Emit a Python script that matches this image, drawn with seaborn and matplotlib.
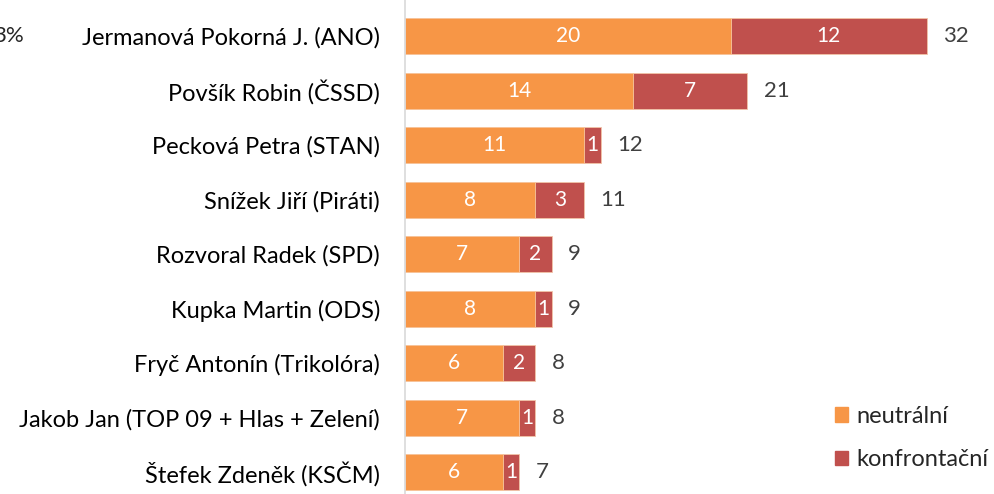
import pandas as pd
import matplotlib.pyplot as plt
import seaborn as sns
from matplotlib.patches import Patch

# -----------------------------
# Data
# -----------------------------
names = [
    "Jermanová Pokorná J. (ANO)",
    "Povšík Robin (ČSSD)",
    "Pecková Petra (STAN)",
    "Snížek Jiří (Piráti)",
    "Rozvoral Radek (SPD)",
    "Kupka Martin (ODS)",
    "Fryč Antonín (Trikolóra)",
    "Jakob Jan (TOP 09 + Hlas + Zelení)",
    "Štefek Zdeněk (KSČM)",
]
neutral = [20, 14, 11, 8, 7, 8, 6, 7, 6]
confront = [12, 7, 1, 3, 2, 1, 2, 1, 1]
series_labels = ["neutrální", "konfrontační"]
corner_text = "3%"

ORANGE = "#F79646"
RED = "#C0504D"

df = pd.DataFrame({"name": names, "neutral": neutral, "confront": confront})
df["total"] = df["neutral"] + df["confront"]

# -----------------------------
# Plot
# -----------------------------
sns.set_style("white")
plt.rcParams["font.family"] = ["Lato", "DejaVu Sans"]

fig = plt.figure(figsize=(9.95, 4.94), dpi=100)
ax = fig.add_axes([405 / 995, 0, 590 / 995, 1])

# total bar (red) underneath, neutral (orange) on top -> stacked look
sns.barplot(data=df, x="total", y="name", orient="h", color=RED, width=0.66,
            edgecolor="#F2C4A8", linewidth=0.6, saturation=1, ax=ax)
sns.barplot(data=df, x="neutral", y="name", orient="h", color=ORANGE, width=0.66,
            edgecolor="#F9C9A0", linewidth=0.6, saturation=1, ax=ax)

ax.set_xlim(0, 36.2)
ax.set_ylim(8.40, -0.66)
ax.set_xlabel("")
ax.set_ylabel("")
ax.set_xticks([])
ax.tick_params(axis="y", length=0, pad=18, labelsize=17, labelcolor="#000000")

for s in ["top", "right", "bottom"]:
    ax.spines[s].set_visible(False)
ax.spines["left"].set_color("#D9D9D9")
ax.spines["left"].set_linewidth(1.2)

# value labels
for i, row in df.iterrows():
    ax.text(row["neutral"] / 2, i, str(row["neutral"]), ha="center", va="center",
            color="white", fontsize=15)
    ax.text(row["neutral"] + row["confront"] / 2, i, str(row["confront"]),
            ha="center", va="center", color="white", fontsize=15)
    ax.text(row["total"] + 1.0, i, str(row["total"]), ha="left", va="center",
            color="#404040", fontsize=16)

# legend
handles = [Patch(color=ORANGE, label=series_labels[0]),
           Patch(color=RED, label=series_labels[1])]
fig.legend(handles=handles, loc="upper left", bbox_to_anchor=(823 / 995, 1 - 394 / 494),
           frameon=False, fontsize=17, handlelength=0.55, handleheight=0.55,
           handletextpad=0.35, labelspacing=0.95, borderpad=0)

fig.text(24 / 995, 1 - 36 / 494, corner_text, ha="right", va="center", fontsize=16)

fig.savefig("out.png", dpi=100)
